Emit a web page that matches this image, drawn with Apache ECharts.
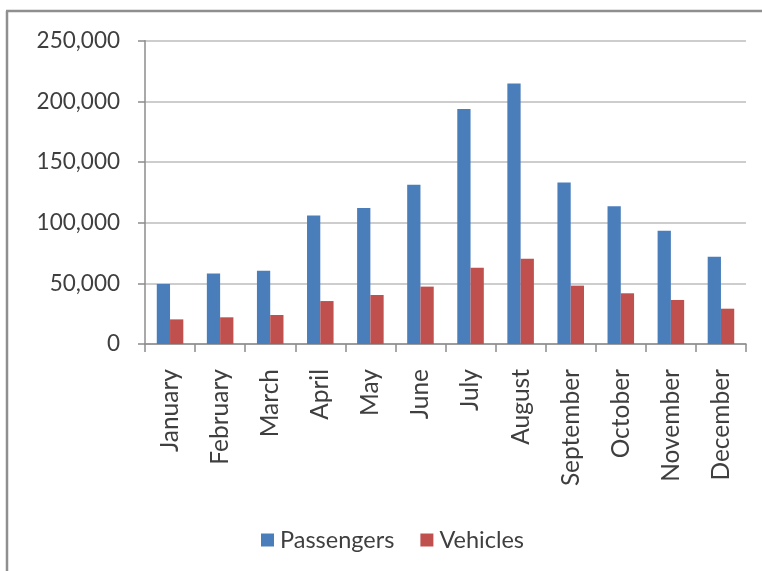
<!DOCTYPE html>
<html>
<head>
<meta charset="utf-8">
<title>Monthly Passengers and Vehicles</title>
<script src="https://cdn.jsdelivr.net/npm/echarts@6/dist/echarts.min.js"></script>
<style>
  html, body { margin: 0; padding: 0; background: #ffffff; }
  #chart { width: 762px; height: 571px; }
</style>
</head>
<body>
<div id="chart"></div>
<script>
// Monthly traffic figures
const months = ['January', 'February', 'March', 'April', 'May', 'June',
                'July', 'August', 'September', 'October', 'November', 'December'];
const passengers = [49500, 58200, 60400, 106000, 112000, 131300,
                    193700, 214800, 133200, 113500, 93400, 72000];
const vehicles = [20300, 22000, 23900, 35400, 40400, 47300,
                  62900, 70300, 48100, 41800, 36300, 29100];
const valueTicks = { min: 0, max: 250000, step: 50000 };

const FONT = 'Lato, "Open Sans", sans-serif';
const TEXT = '#3f3f3f';
const AXIS = '#8c8c8c';

const chart = echarts.init(document.getElementById('chart'), null, { renderer: 'canvas' });

chart.setOption({
  backgroundColor: '#ffffff',
  animation: false,
  textStyle: { fontFamily: FONT },
  // chart-area frame (left and top edges)
  graphic: [
    { type: 'line', shape: { x1: 7, y1: 11, x2: 7, y2: 571 },
      style: { stroke: '#8f8f8f', lineWidth: 2.5 } },
    { type: 'line', shape: { x1: 6, y1: 11, x2: 762, y2: 11 },
      style: { stroke: '#8f8f8f', lineWidth: 2.5 } }
  ],
  grid: { left: 145, right: 16, top: 40.7, bottom: 227, containLabel: false },
  legend: {
    left: 256,
    top: 523,
    icon: 'rect',
    itemWidth: 13,
    itemHeight: 13,
    itemGap: 26,
    textStyle: { fontFamily: FONT, fontSize: 23.5, color: TEXT, padding: [0, 0, 0, 1] },
    data: ['Passengers', 'Vehicles']
  },
  xAxis: {
    type: 'category',
    data: months,
    axisLine: { show: true, lineStyle: { color: AXIS, width: 1.5 } },
    axisTick: { show: true, length: 8, alignWithLabel: false, lineStyle: { color: AXIS, width: 1.5 } },
    axisLabel: {
      rotate: 90,
      interval: 0,
      margin: 25,
      fontFamily: FONT,
      fontSize: 24.5,
      color: TEXT
    },
    splitLine: { show: false }
  },
  yAxis: {
    type: 'value',
    min: valueTicks.min,
    max: valueTicks.max,
    interval: valueTicks.step,
    axisLine: { show: true, lineStyle: { color: AXIS, width: 1.5 } },
    axisTick: { show: true, length: 7, lineStyle: { color: AXIS, width: 1.5 } },
    axisLabel: {
      margin: 25,
      fontFamily: FONT,
      fontSize: 22.5,
      color: TEXT,
      formatter: v => v.toLocaleString('en-US')
    },
    splitLine: { show: true, lineStyle: { color: '#bdbdbd', width: 1.5 } }
  },
  series: [
    {
      name: 'Passengers',
      type: 'bar',
      data: passengers,
      barGap: '0%',
      barCategoryGap: '47%',
      itemStyle: { color: '#4a7ebb' }
    },
    {
      name: 'Vehicles',
      type: 'bar',
      data: vehicles,
      barGap: '0%',
      barCategoryGap: '47%',
      itemStyle: { color: '#c0504d' }
    }
  ]
});
</script>
</body>
</html>
